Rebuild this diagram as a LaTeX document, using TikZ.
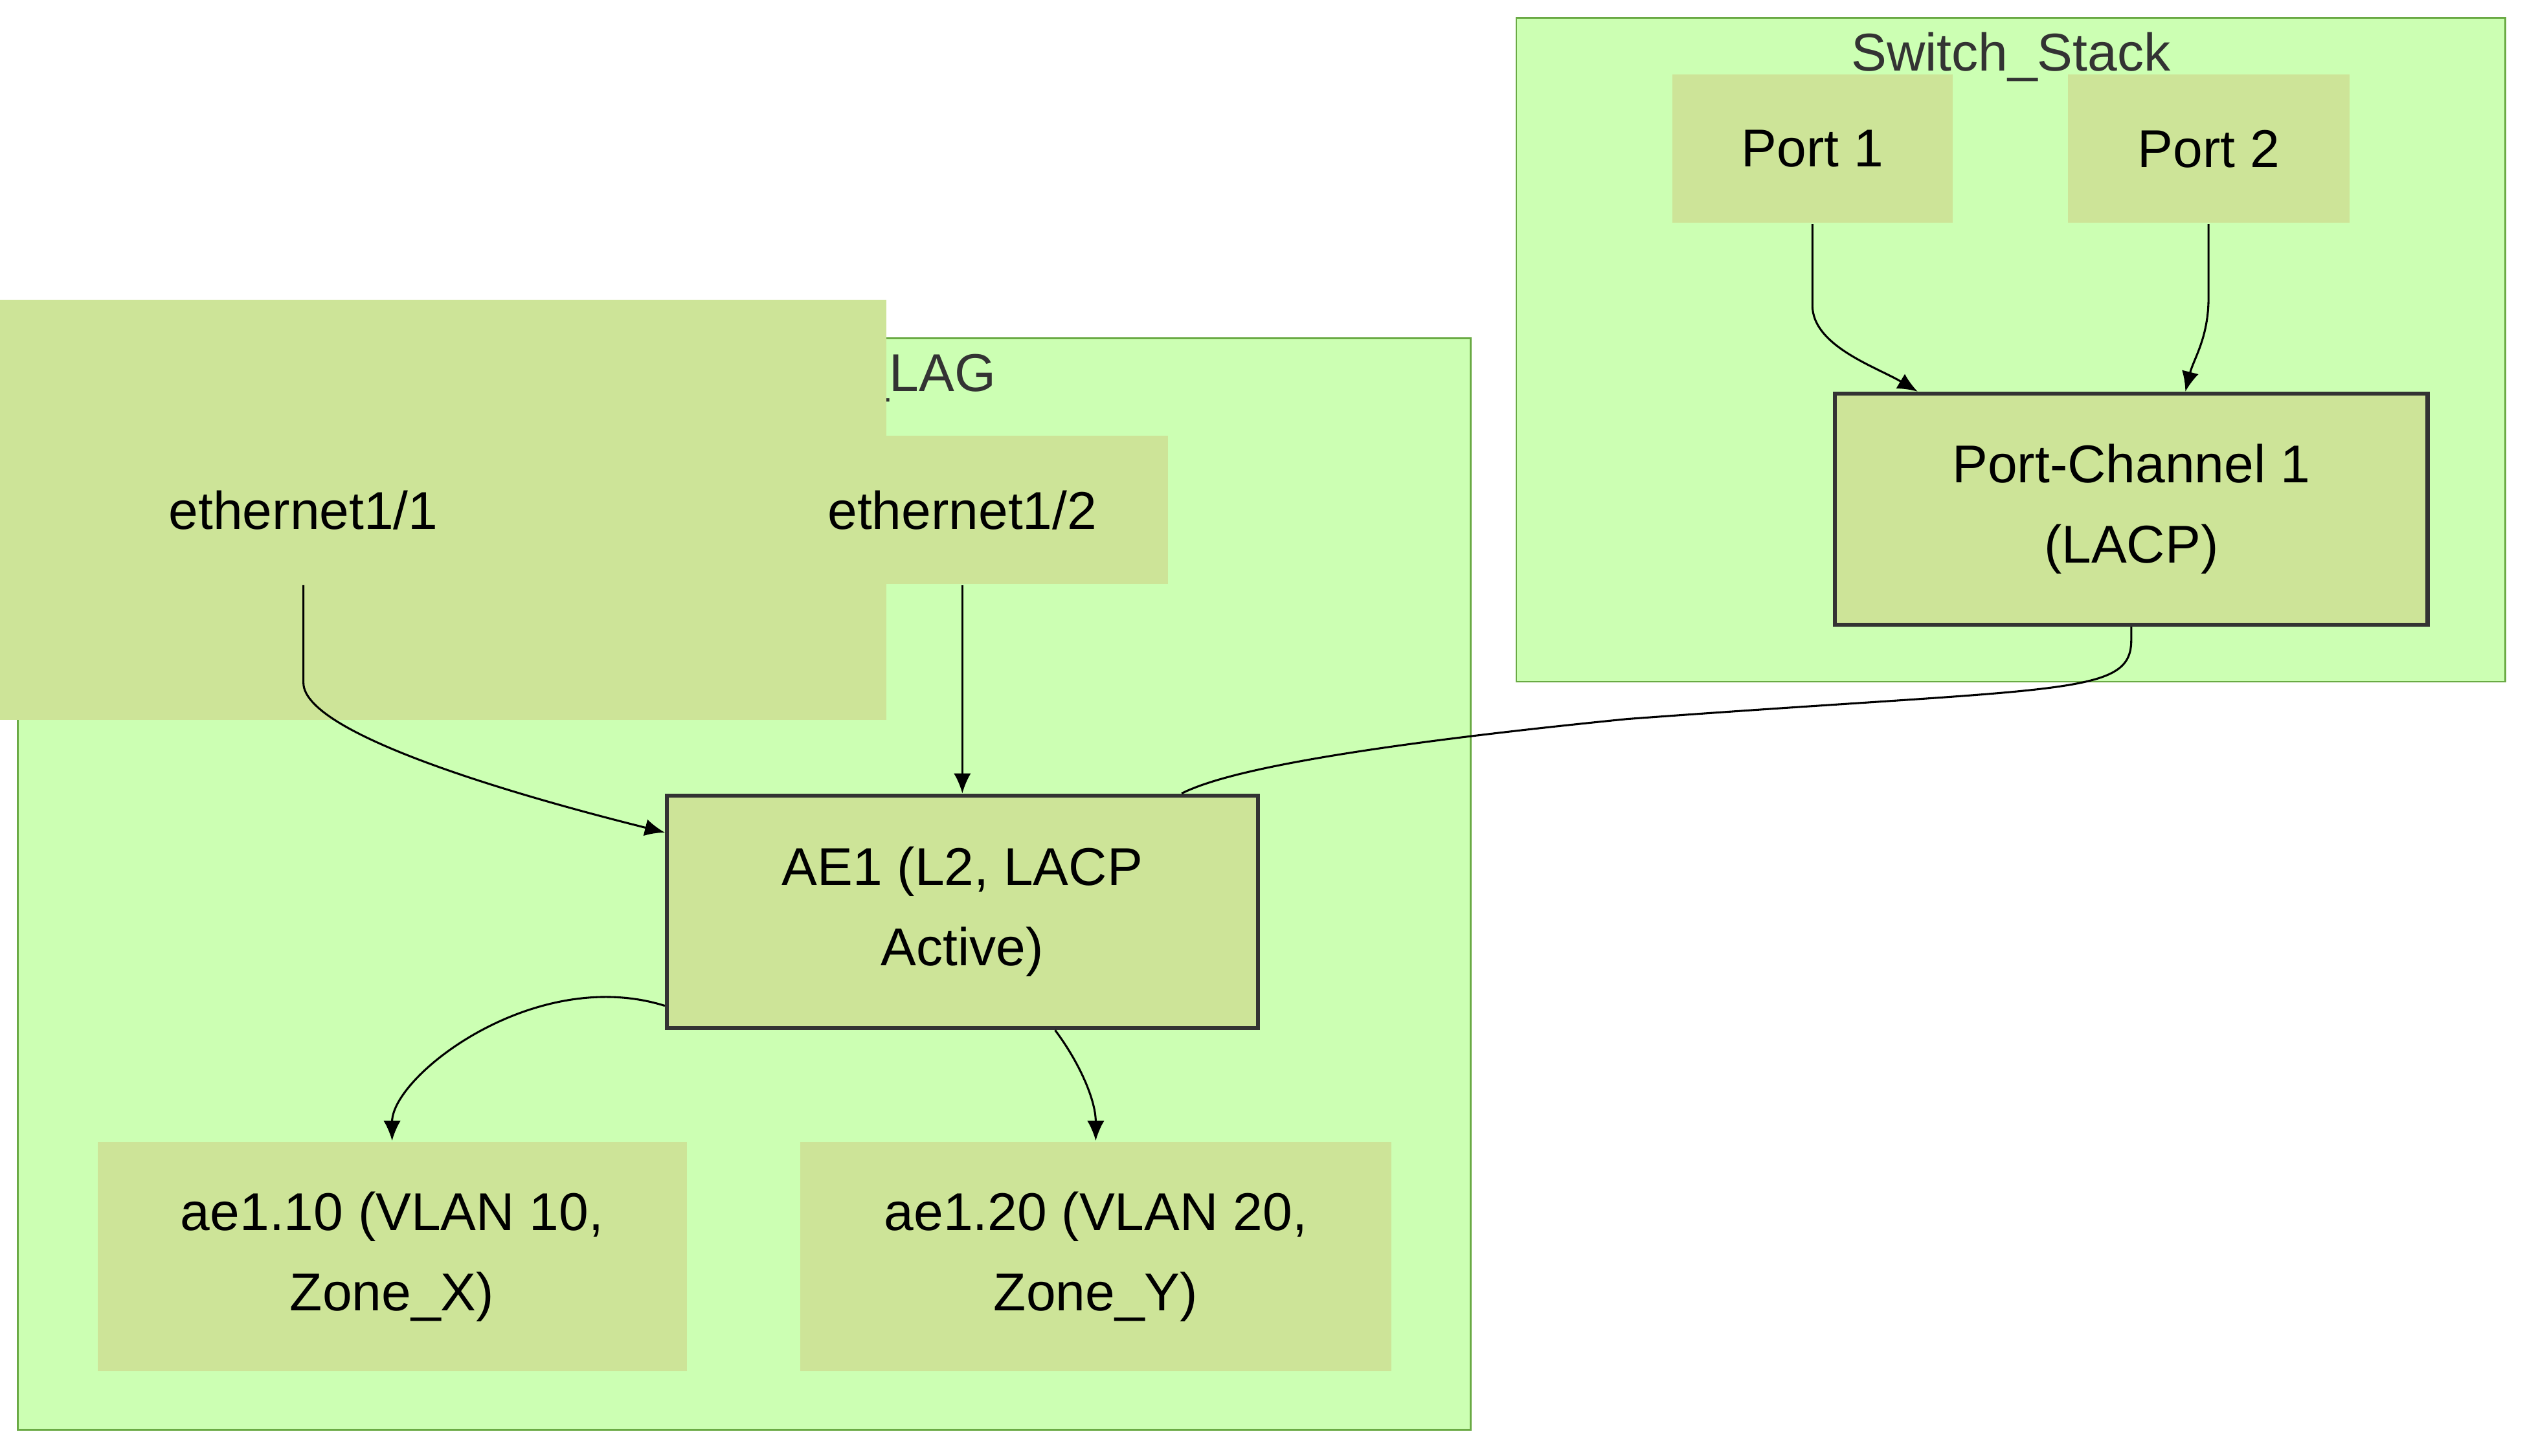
\documentclass[tikz,border=0pt]{standalone}
\usepackage{fontspec}
\setmainfont{Liberation Sans}
\usetikzlibrary{arrows.meta,positioning}
\definecolor{clfill}{HTML}{CCFFB3}
\definecolor{clline}{HTML}{6AAA44}
\definecolor{ndfill}{HTML}{CDE498}
\definecolor{txtgray}{HTML}{333333}
\tikzset{
  cluster/.style={draw=clline,fill=clfill,line width=0.3pt},
  box/.style={fill=ndfill,inner sep=0pt,align=center,font=\fontsize{9.3}{14}\selectfont},
  lag/.style={box,draw=txtgray,line width=0.7pt},
  title/.style={text=txtgray,font=\fontsize{9.3}{11}\selectfont},
  link/.style={line width=0.35pt,-{Latex[length=3.5pt,width=3pt]}}
}
\begin{document}
\begin{tikzpicture}[x=0.01cm,y=-0.01cm]
\useasboundingbox (0,0) rectangle (1560,895);
% clusters
\draw[cluster] (11,208) rectangle (904,879);
\node[title] (fwtitle) at (457,232) {PA\_Firewall\_L2\_LAG};
\draw[cluster] (932,11) rectangle (1540,419);
\node[title] (swtitle) at (1236,35) {Switch\_Stack};
% firewall nodes
\node[box,minimum width=253\pgflinewidth,minimum width=7.16cm,minimum height=2.58cm] (eth1) at (186.5,313.5) {};
\node[box,minimum width=2.53cm,minimum height=0.91cm] (e1) at (186.5,313.5) {ethernet1/1};
\node[box,minimum width=2.53cm,minimum height=0.91cm] (e2) at (591.5,313.5) {ethernet1/2};
\node[lag,minimum width=3.63cm,minimum height=1.43cm] (ae1) at (591.5,560.5) {AE1 (L2, LACP\\Active)};
\node[box,minimum width=3.62cm,minimum height=1.41cm] (sub10) at (241,772.5) {ae1.10 (VLAN 10,\\Zone\_X)};
\node[box,minimum width=3.63cm,minimum height=1.41cm] (sub20) at (673.5,772.5) {ae1.20 (VLAN 20,\\Zone\_Y)};
% switch nodes
\node[box,minimum width=1.72cm,minimum height=0.91cm] (p1) at (1114,91.5) {Port 1};
\node[box,minimum width=1.73cm,minimum height=0.91cm] (p2) at (1357.5,91.5) {Port 2};
\node[lag,minimum width=3.64cm,minimum height=1.42cm] (pc1) at (1310,313) {Port-Channel 1\\(LACP)};
% links
\draw[link] (e1.south) -- ++(0,60) .. controls +(0,35) and +(-60,-15) .. ([yshift=-0.24cm]ae1.north west);
\draw[link] (e2.south) -- (ae1.north);
\draw[link] ([yshift=0.15cm]ae1.south west) .. controls +(-80,-25) and +(0,-40) .. (sub10.north);
\draw[link] ([xshift=0.57cm]ae1.south) .. controls +(15,20) and +(0,-25) .. (sub20.north);
\draw[link] (p1.south) -- ++(0,50) .. controls +(0,25) and +(-25,-15) .. ([xshift=0.52cm]pc1.north west);
\draw[link] (p2.south) -- ++(0,45) .. controls +(0,25) and +(5,-20) .. ([xshift=-1.5cm]pc1.north east);
\draw[line width=0.35pt] (pc1.south) -- ++(0,8) .. controls +(0,35) and +(270,-20) .. (1000,442) .. controls +(-200,20) and +(20,-10) .. ([xshift=-0.48cm]ae1.north east);
\end{tikzpicture}
\end{document}
